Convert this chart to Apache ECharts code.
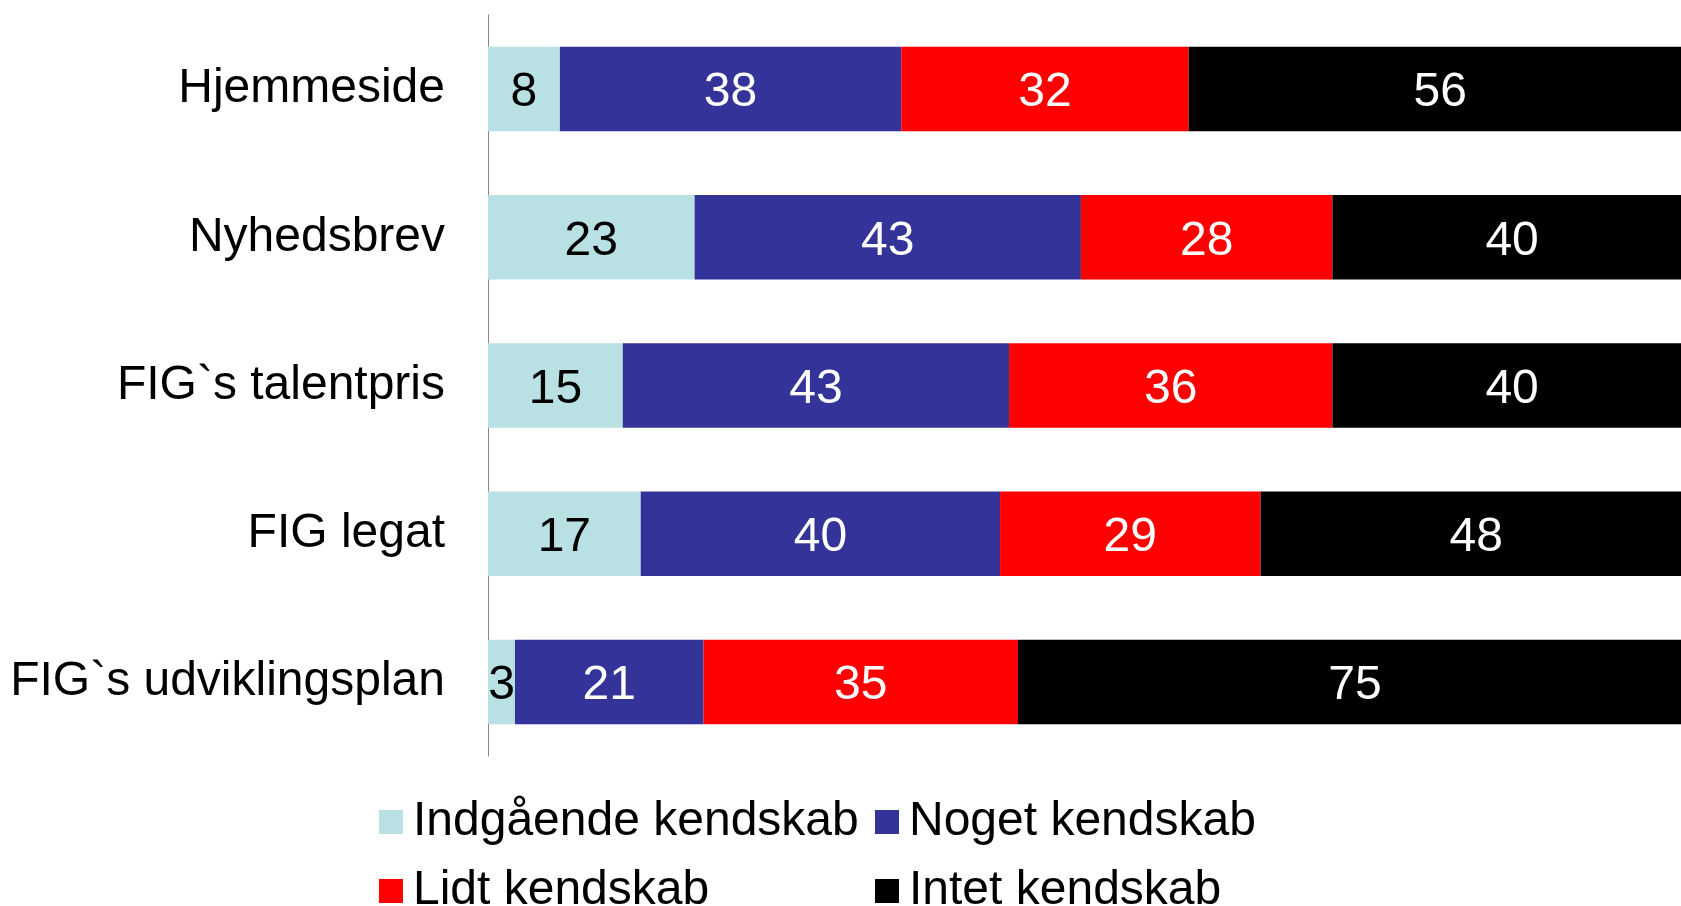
<!DOCTYPE html>
<html lang="da">
<head>
<meta charset="UTF-8">
<title>Kendskab</title>
<style type="text/css">
  html, body { margin: 0; padding: 0; background: #fff; }
  #chart { width: 1681px; height: 906px; }
</style>
</head>
<body>
<div id="chart"></div>
<script src="https://cdn.jsdelivr.net/npm/echarts@6/dist/echarts.min.js"></script>
<script type="text/javascript">
// data
var categories = ['Hjemmeside', 'Nyhedsbrev', 'FIG`s talentpris', 'FIG legat', 'FIG`s udviklingsplan'];
var indgaaende = [8, 23, 15, 17, 3];
var noget = [38, 43, 43, 40, 21];
var lidt = [32, 28, 36, 29, 35];
var intet = [56, 40, 40, 48, 75];

var font = '"Liberation Sans", Arial, sans-serif';

function serie(name, values, color, labelColor) {
  return {
    name: name,
    type: 'bar',
    stack: 'total',
    data: values,
    clip: false,
    barCategoryGap: '43%',
    itemStyle: { color: color },
    label: {
      show: true,
      position: 'inside',
      offset: [0, 4],
      color: labelColor,
      fontFamily: font,
      fontSize: 48
    }
  };
}

// one legend per entry so the two columns line up like the original
function legende(name, left, top) {
  return {
    left: left,
    top: top,
    icon: 'rect',
    itemWidth: 24,
    itemHeight: 24,
    textStyle: { fontFamily: font, fontSize: 48, color: '#000', lineHeight: 50, padding: [0, 0, 0, 5] },
    data: [name]
  };
}

var myChart = echarts.init(document.getElementById('chart'));
var option = {
  animation: false,
  grid: { left: 488, right: 0, top: 15, bottom: 150 },
  legend: [
    legende('Indgående kendskab', 374, 792),
    legende('Noget kendskab', 870, 792),
    legende('Lidt kendskab', 374, 861),
    legende('Intet kendskab', 870, 861)
  ],
  xAxis: {
    type: 'value',
    min: 0,
    max: 132.8,
    show: false
  },
  yAxis: {
    type: 'category',
    inverse: true,
    data: categories,
    axisLine: { show: true, lineStyle: { color: '#868686', width: 1 } },
    axisTick: { show: false },
    axisLabel: { margin: 43, color: '#000', fontFamily: font, fontSize: 48, padding: [10, 0, 0, 0] }
  },
  series: [
    serie('Indgående kendskab', indgaaende, '#B9E0E2', '#000'),
    serie('Noget kendskab', noget, '#333399', '#fff'),
    serie('Lidt kendskab', lidt, '#FF0000', '#fff'),
    serie('Intet kendskab', intet, '#000000', '#fff')
  ]
};
myChart.setOption(option);
</script>
</body>
</html>
